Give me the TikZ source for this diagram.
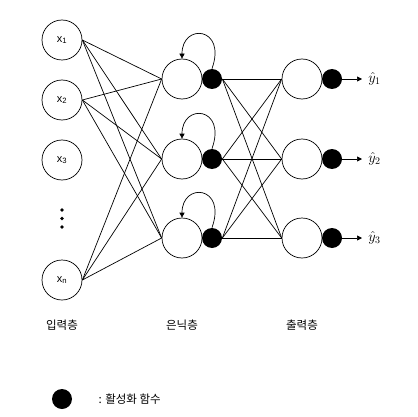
\documentclass[tikz,border=0pt]{standalone}
\usepackage{fontspec}
\setsansfont{Liberation Sans}
\newfontfamily\kofont{Noto Sans CJK KR}
\usetikzlibrary{arrows.meta}

\begin{document}
\begin{tikzpicture}[x=1pt, y=-1pt, line width=0.7pt,
    neuron/.style={draw, circle, minimum size=40pt, inner sep=0pt, font=\sffamily\fontsize{11}{11}\selectfont},
    act/.style={fill, circle, minimum size=20pt, inner sep=0pt},
    layer/.style={font=\kofont\fontsize{11.5}{12}\selectfont},
    loop/.style={-{Triangle[length=5pt, width=5pt]}}]
    \useasboundingbox (0,0) rectangle (417,417);

    % input layer
    \node[neuron] (x1) at (62,40) {x\textsubscript{1}};
    \node[neuron] (x2) at (62,100) {x\textsubscript{2}};
    \node[neuron] (x3) at (62,160) {x\textsubscript{3}};
    \node[neuron] (xn) at (62,280) {x\textsubscript{n}};
    \fill (62,210) circle (1.8) (62,218.5) circle (1.8) (62,227) circle (1.8);

    % hidden and output layers
    \foreach \i/\y in {1/79, 2/159, 3/238} {
        \node[neuron] (h\i) at (182,\y) {};
        \node[act] (a\i) at (212,\y) {};
        \node[neuron] (o\i) at (302,\y) {};
        \node[act] (b\i) at (332,\y) {};
        \node[right, inner sep=6pt, font=\fontsize{14}{14}\selectfont] (y\i) at (362,\y) {$\hat{y}_\i$};
        \draw[loop] (a\i.north) .. controls +(15,-42) and +(0,-36) .. (h\i.north);
        \draw[-{Triangle[length=5pt, width=5pt]}] (b\i.east) -- (y\i.west);
    }

    \foreach \s in {x1, x2, xn}
        \foreach \t in {h1, h2, h3}
            \draw (\s.east) -- (\t.west);

    \foreach \s in {a1, a2, a3}
        \foreach \t in {o1, o2, o3}
            \draw (\s.east) -- (\t.west);

    \node[layer] (in) at (62,325) {입력층};
    \node[layer] (hid) at (182,325) {은닉층};
    \node[layer] (out) at (302,325) {출력층};

    % legend
    \node[act] (leg) at (62,399) {};
    \node[layer, right] (legtxt) at (95,399) {: 활성화 함수};
\end{tikzpicture}
\end{document}
